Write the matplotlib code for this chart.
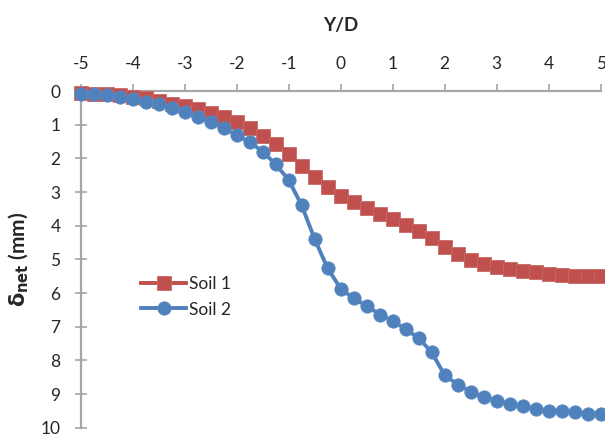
import matplotlib
matplotlib.use("Agg")
import matplotlib.pyplot as plt

plt.rcParams['font.family'] = ['Lato', 'DejaVu Sans']
plt.rcParams['mathtext.fontset'] = 'dejavusans'

y_over_d = [-5.0, -4.75, -4.5, -4.25, -4.0, -3.75, -3.5, -3.25, -3.0, -2.75,
            -2.5, -2.25, -2.0, -1.75, -1.5, -1.25, -1.0, -0.75, -0.5, -0.25,
            0.0, 0.25, 0.5, 0.75, 1.0, 1.25, 1.5, 1.75, 2.0, 2.25,
            2.5, 2.75, 3.0, 3.25, 3.5, 3.75, 4.0, 4.25, 4.5, 4.75, 5.0]

soil1 = [0.07, 0.08, 0.10, 0.13, 0.17, 0.22, 0.30, 0.38, 0.45, 0.53,
         0.65, 0.78, 0.93, 1.11, 1.33, 1.57, 1.86, 2.22, 2.54, 2.86,
         3.12, 3.31, 3.48, 3.65, 3.80, 3.97, 4.16, 4.38, 4.64, 4.84,
         5.01, 5.15, 5.23, 5.29, 5.34, 5.39, 5.43, 5.46, 5.48, 5.49, 5.49]

soil2 = [0.09, 0.09, 0.13, 0.17, 0.25, 0.33, 0.40, 0.51, 0.62, 0.76,
         0.92, 1.11, 1.31, 1.52, 1.80, 2.18, 2.64, 3.40, 4.40, 5.27,
         5.87, 6.16, 6.38, 6.64, 6.83, 7.07, 7.34, 7.76, 8.44, 8.72,
         8.93, 9.09, 9.20, 9.29, 9.37, 9.44, 9.49, 9.51, 9.54, 9.58, 9.59]

series_names = ["Soil 1", "Soil 2"]
x_ticks = [-5, -4, -3, -2, -1, 0, 1, 2, 3, 4, 5]
y_ticks = [0, 1, 2, 3, 4, 5, 6, 7, 8, 9, 10]

red = '#C0504D'
blue = '#4F81BD'
axis_gray = '#A6A6A6'
text_color = '#262626'

fig = plt.figure(figsize=(6.05, 4.37), dpi=100)
ax = fig.add_axes([80.7 / 605, 1 - 427.7 / 437, 520 / 605, (427.7 - 91) / 437])

ax.plot(y_over_d, soil1, color=red, lw=2.8, marker='s', markersize=10.5,
        markerfacecolor=red, markeredgecolor='#C66A67', markeredgewidth=0.6,
        clip_on=False, label=series_names[0], zorder=3)
ax.plot(y_over_d, soil2, color=blue, lw=2.8, marker='o', markersize=9.6,
        markerfacecolor=blue, markeredgecolor='#5B8AC2', markeredgewidth=0.6,
        clip_on=False, label=series_names[1], zorder=4)

ax.set_xlim(-5, 5)
ax.set_ylim(10, 0)
ax.set_xticks(x_ticks)
ax.set_yticks(y_ticks)
ax.set_xticklabels([str(v) for v in x_ticks])
ax.set_yticklabels([str(v) for v in y_ticks])

ax.xaxis.set_ticks_position('top')
ax.xaxis.set_label_position('top')
for s in ['right', 'bottom']:
    ax.spines[s].set_visible(False)
for s in ['left', 'top']:
    ax.spines[s].set_color(axis_gray)
    ax.spines[s].set_linewidth(1.6)

ax.tick_params(axis='x', direction='out', length=5, width=1.2, color=axis_gray,
               labelsize=12.5, labelcolor=text_color, pad=9)
ax.tick_params(axis='y', direction='inout', length=9, width=1.2, color=axis_gray,
               labelsize=12.5, labelcolor=text_color, pad=10)

ax.set_xlabel('Y/D', fontsize=13.5, fontweight='bold', color=text_color, labelpad=18)
ax.set_ylabel(r'$\mathbf{δ}_{\mathbf{net}}$ (mm)', fontsize=15, fontweight='bold',
              color=text_color, labelpad=7)

leg = ax.legend(loc='upper left', bbox_to_anchor=(141 / 605, 1 - 276 / 437),
                bbox_transform=fig.transFigure, frameon=False, fontsize=12.5,
                handlelength=2.6, handletextpad=0.15, labelspacing=0.55,
                borderaxespad=0, borderpad=0)
for t in leg.get_texts():
    t.set_color(text_color)

fig.savefig('out.png', dpi=100)
